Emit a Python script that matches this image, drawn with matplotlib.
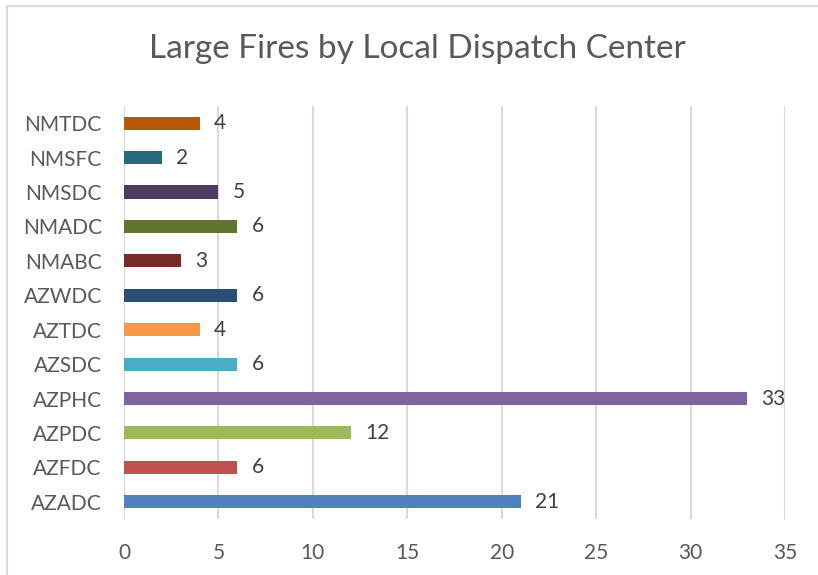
import matplotlib
matplotlib.use("Agg")
import matplotlib.pyplot as plt
from matplotlib.lines import Line2D

# data, bottom to top as drawn
centers = ["AZADC", "AZFDC", "AZPDC", "AZPHC", "AZSDC", "AZTDC",
           "AZWDC", "NMABC", "NMADC", "NMSDC", "NMSFC", "NMTDC"]
fires = [21, 6, 12, 33, 6, 4, 6, 3, 6, 5, 2, 4]
bar_colors = ["#4F81BD", "#C0504D", "#9BBB59", "#8064A2", "#4BACC6", "#F79646",
              "#2C4D75", "#772C2A", "#5F7530", "#4D3B62", "#276A7C", "#B65708"]
x_ticks = [0, 5, 10, 15, 20, 25, 30, 35]

plt.rcParams['font.family'] = ['Lato', 'DejaVu Sans']

fig = plt.figure(figsize=(8.18, 5.75), dpi=100)
ax = fig.add_axes([0.1516, 0.0974, 0.808, 0.7183])

ax.barh(range(len(centers)), fires, height=0.38, color=bar_colors, zorder=3)
for i, v in enumerate(fires):
    ax.text(v + 0.75, i, str(v), va="center", ha="left", fontsize=15, color="#404040")

ax.set_xlim(0, 35)
ax.set_ylim(-0.5, len(centers) - 0.5)
ax.set_xticks(x_ticks)
ax.set_yticks(range(len(centers)))
ax.set_yticklabels(centers)
ax.tick_params(axis="both", length=0, labelsize=15, colors="#595959")
ax.tick_params(axis="x", pad=17)
ax.tick_params(axis="y", pad=16)
ax.grid(axis="x", color="#D9D9D9", linewidth=1.5, zorder=0)
for s in ax.spines.values():
    s.set_visible(False)

fig.text(0.51, 0.915, "Large Fires by Local Dispatch Center", ha="center", va="center",
         fontsize=24, color="#595959")

# chart area border (top and left visible)
fig.add_artist(Line2D([0.0085, 1.0], [0.989, 0.989], color="#D9D9D9", linewidth=1.5))
fig.add_artist(Line2D([0.0085, 0.0085], [0.0, 0.989], color="#D9D9D9", linewidth=1.5))

fig.savefig("out.png", dpi=100)
